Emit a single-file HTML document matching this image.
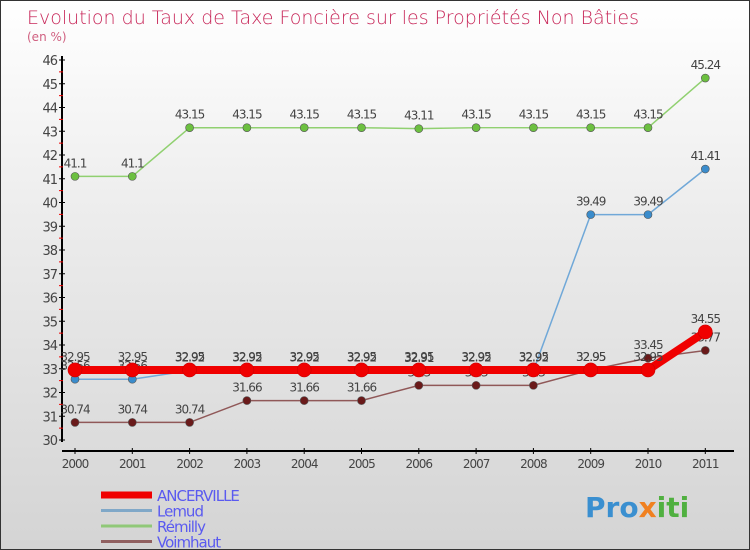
<!DOCTYPE html>
<html><head><meta charset="utf-8"><style>
body{margin:0}
#c{width:748px;height:548px;border:1px solid #333;background:linear-gradient(#fff,#ececec 40%,#d4d4d4);position:relative;overflow:hidden;font-family:"DejaVu Sans","Liberation Sans",sans-serif}
</style></head><body>
<div id="c">
<svg id="s" width="748" height="548">
<text x="26" y="23" font-size="19" fill="#c8285a" style="font-weight:300">Evolution du Taux de Taxe Foncière sur les Propriétés Non Bâties</text>
<text x="26" y="40" font-size="12" fill="#d06080">(en %)</text>
<g id="axes"></g><g id="series"></g><g id="legend"></g>
<text x="584" y="516" font-size="28" font-weight="bold" fill="#3a8fd0">Pro<tspan fill="#f08020">x</tspan><tspan fill="#50b040">iti</tspan></text>
</svg>
</div>
<script>
const years=["2000","2001","2002","2003","2004","2005","2006","2007","2008","2009","2010","2011"];
const yTicks=[30,31,32,33,34,35,36,37,38,39,40,41,42,43,44,45,46];
const seriesNames=["ANCERVILLE","Lemud","Rémilly","Voimhaut"];
const ancerville=[32.95,32.95,32.95,32.95,32.95,32.95,32.95,32.95,32.95,32.95,32.95,34.55];
const lemud=[32.56,32.56,32.92,32.92,32.92,32.92,32.91,32.92,32.92,39.49,39.49,41.41];
const remilly=[41.1,41.1,43.15,43.15,43.15,43.15,43.11,43.15,43.15,43.15,43.15,45.24];
const voimhaut=[30.74,30.74,30.74,31.66,31.66,31.66,32.3,32.3,32.3,32.95,33.45,33.77];
const NS="http://www.w3.org/2000/svg";
function X(i){return 74+i*57.3;}
function Y(v){return 439-(v-30)*23.75;}
function mk(t,a,p){const e=document.createElementNS(NS,t);for(const k in a)e.setAttribute(k,a[k]);p.appendChild(e);return e;}
const ax=document.getElementById('axes');
let l=mk('line',{x1:61,y1:55,x2:61,y2:441,stroke:'#000','stroke-width':2},ax);

l=mk('line',{x1:61,y1:450,x2:733,y2:450,stroke:'#000','stroke-width':2},ax);

yTicks.forEach(v=>{
 mk('line',{x1:58,y1:Y(v),x2:64,y2:Y(v),stroke:'#000'},ax);
 if(v<46)mk('line',{x1:58,y1:Y(v+0.5),x2:62,y2:Y(v+0.5),stroke:'#e00'},ax);
 const t=mk('text',{x:56,y:Y(v)+5,'font-size':13,fill:'#444','text-anchor':'end','letter-spacing':'-1'},ax);
 t.textContent=v;
 
 
});
years.forEach((y,i)=>{
 mk('line',{x1:X(i),y1:447,x2:X(i),y2:453,stroke:'#000'},ax);
 const t=mk('text',{x:X(i),y:467,'font-size':12,fill:'#444','text-anchor':'middle','letter-spacing':'-1'},ax);
 t.textContent=y;
 
 
});
const sg=document.getElementById('series');
const defs=[[remilly,'#90d070','#6cc040',1.5,4,'remilly'],[lemud,'#70a8d8','#3a8ccc',1.5,4,'lemud'],[voimhaut,'#905858','#6a1a1a',1.5,4,'voimhaut'],[ancerville,'#f00000','#f00000',8,7,'ancerville']];
defs.forEach(([d,lc,pc,w,r,n])=>{
 const g=mk('g',{},sg);
 
 
 const p=mk('polyline',{points:d.map((v,i)=>X(i)+','+Y(v)).join(' '),fill:'none',stroke:lc,'stroke-width':w},g);
 
 
 d.forEach((v,i)=>{
  const c=mk('circle',{cx:X(i),cy:Y(v),r:r,fill:pc,stroke:n==='ancerville'?'#c00':'#555','stroke-width':0.6},g);
  
  
  const t=mk('text',{x:X(i),y:Y(v)-9,'font-size':12,fill:'#444','text-anchor':'middle','letter-spacing':'-1'},g);
  t.textContent=v;
  
  
 });
});
const lg=document.getElementById('legend');
const lcols=['#f00000','#80a8c8','#90c878','#906060'];const lw=[7,3,3,3];
seriesNames.forEach((n,i)=>{
 const y=494+i*15.5;
 const r=mk('line',{x1:100,y1:y,x2:151,y2:y,stroke:lcols[i],'stroke-width':lw[i]},lg);
 
 
 const t=mk('text',{x:156,y:y+6,'font-size':15,fill:'#5a5af0','letter-spacing':'-1'},lg);
 t.textContent=n;
 
 
});
</script>
</body></html>
